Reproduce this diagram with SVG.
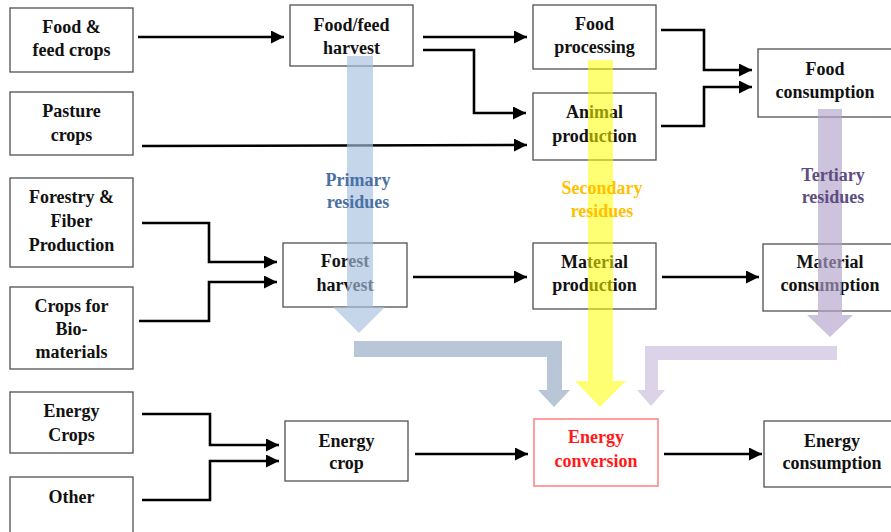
<svg xmlns="http://www.w3.org/2000/svg" width="891" height="532" viewBox="0 0 891 532">
<style>
.box{fill:#fff;stroke:#505050;stroke-width:1.3}
.red{fill:#fff;stroke:#ff7f7f;stroke-width:1.5}
text{font-family:"Liberation Serif","Times New Roman",serif;font-weight:bold;font-size:18px;text-anchor:middle;fill:#111}
.rt{fill:#ff1a1a}
.conn{fill:none;stroke:#000;stroke-width:2.6;stroke-linejoin:miter}
</style>
<defs>
<marker id="ah" viewBox="0 0 13 13" refX="13" refY="6.5" markerWidth="13" markerHeight="13" markerUnits="userSpaceOnUse" orient="auto">
<path d="M0,0 L13,6.5 L0,13 z" fill="#000"/>
</marker>
</defs>
<rect width="891" height="532" fill="#fff"/>

<g id="n-food-feed-crops"><rect class="box" x="10" y="8" width="123" height="64"/><text x="71.5" y="33">Food &amp;</text><text x="71.5" y="56">feed crops</text></g>
<g id="n-pasture"><rect class="box" x="10" y="92" width="123" height="63"/><text x="71.5" y="117">Pasture</text><text x="71.5" y="141">crops</text></g>
<g id="n-forestry"><rect class="box" x="10" y="178" width="123" height="89"/><text x="71.5" y="203">Forestry &amp;</text><text x="71.5" y="227">Fiber</text><text x="71.5" y="251">Production</text></g>
<g id="n-crops-bio"><rect class="box" x="10" y="287" width="123" height="82"/><text x="71.5" y="312">Crops for</text><text x="71.5" y="335">Bio-</text><text x="71.5" y="358">materials</text></g>
<g id="n-energy-crops"><rect class="box" x="10" y="392" width="123" height="61"/><text x="71.5" y="417">Energy</text><text x="71.5" y="441">Crops</text></g>
<g id="n-other"><rect class="box" x="10" y="477" width="123" height="70"/><text x="71.5" y="503">Other</text></g>

<g id="n-food-feed-harvest"><rect class="box" x="290" y="5" width="123" height="61"/><text x="351.5" y="31">Food/feed</text><text x="351.5" y="54">harvest</text></g>
<g id="n-forest-harvest"><rect class="box" x="283" y="243" width="124" height="64"/><text x="345" y="267">Forest</text><text x="345" y="291">harvest</text></g>
<g id="n-energy-crop"><rect class="box" x="285" y="421" width="123" height="60"/><text x="346.5" y="447">Energy</text><text x="346.5" y="469">crop</text></g>

<g id="n-food-processing"><rect class="box" x="533" y="5" width="123" height="64"/><text x="594.5" y="30">Food</text><text x="594.5" y="53">processing</text></g>
<g id="n-animal-production"><rect class="box" x="533" y="93" width="123" height="67"/><text x="594.5" y="118">Animal</text><text x="594.5" y="142">production</text></g>
<g id="n-material-production"><rect class="box" x="533" y="243" width="123" height="66"/><text x="594.5" y="268">Material</text><text x="594.5" y="291">production</text></g>
<g id="n-energy-conversion"><rect class="red" x="534" y="419" width="124" height="67"/><text class="rt" x="596" y="443">Energy</text><text class="rt" x="596" y="467">conversion</text></g>

<g id="n-food-consumption"><rect class="box" x="758" y="49" width="140" height="68"/><text x="825" y="75">Food</text><text x="825" y="98">consumption</text></g>
<g id="n-material-consumption"><rect class="box" x="763" y="244" width="135" height="67"/><text x="830" y="268">Material</text><text x="830" y="291">consumption</text></g>
<g id="n-energy-consumption"><rect class="box" x="764" y="421" width="134" height="66"/><text x="832" y="447">Energy</text><text x="832" y="469">consumption</text></g>

<g id="connectors">
<path class="conn" d="M138,37 H284" marker-end="url(#ah)"/>
<path class="conn" d="M423,37 H527" marker-end="url(#ah)"/>
<path class="conn" d="M423,50 H474 V113 H526" marker-end="url(#ah)"/>
<path class="conn" d="M142,146 L527,145" marker-end="url(#ah)"/>
<path class="conn" d="M661,30 H704 V70 H752" marker-end="url(#ah)"/>
<path class="conn" d="M661,126 H704 V87 H752" marker-end="url(#ah)"/>
<path class="conn" d="M142,223 H209 V262 H277" marker-end="url(#ah)"/>
<path class="conn" d="M139,321 H209 V282 H277" marker-end="url(#ah)"/>
<path class="conn" d="M413,277 H527" marker-end="url(#ah)"/>
<path class="conn" d="M662,277 H759" marker-end="url(#ah)"/>
<path class="conn" d="M142,414 H210 V445 H279" marker-end="url(#ah)"/>
<path class="conn" d="M142,500 H210 V461 H279" marker-end="url(#ah)"/>
<path class="conn" d="M415,454 H528" marker-end="url(#ah)"/>
<path class="conn" d="M664,454 H762" marker-end="url(#ah)"/>
</g>

<g id="residue-arrows">
<path id="primary-arrow" d="M347,56 H373 V307 H385 L359,333 L333,307 H347 Z" fill="#a6bfdf" fill-opacity="0.65"/>
<path d="M354,341 H562 V390 H570 L554,407 L538,390 H547 V357 H354 Z" fill="#b8c6d8"/>
<path id="secondary-arrow" d="M588,60 H613 V381 H626 L600,407 L575,381 H588 Z" fill="#ffff00" fill-opacity="0.55"/>
<path id="tertiary-arrow" d="M818,109 H842 V315 H853 L830,337 L807,315 H818 Z" fill="#b2a3cb" fill-opacity="0.65"/>
<path d="M837,346 V360 H658 V390 H665 L651,406 L637,390 H645 V346 Z" fill="#dcd3e9"/>
</g>

<g id="residue-labels">
<text x="358" y="186" style="fill:#4a70a6">Primary</text>
<text x="358" y="208" style="fill:#4a70a6">residues</text>
<text x="602" y="194" style="fill:#ffc000">Secondary</text>
<text x="602" y="217" style="fill:#ffc000">residues</text>
<text x="833" y="181" style="fill:#5e4e80">Tertiary</text>
<text x="833" y="203" style="fill:#5e4e80">residues</text>
</g>
</svg>
